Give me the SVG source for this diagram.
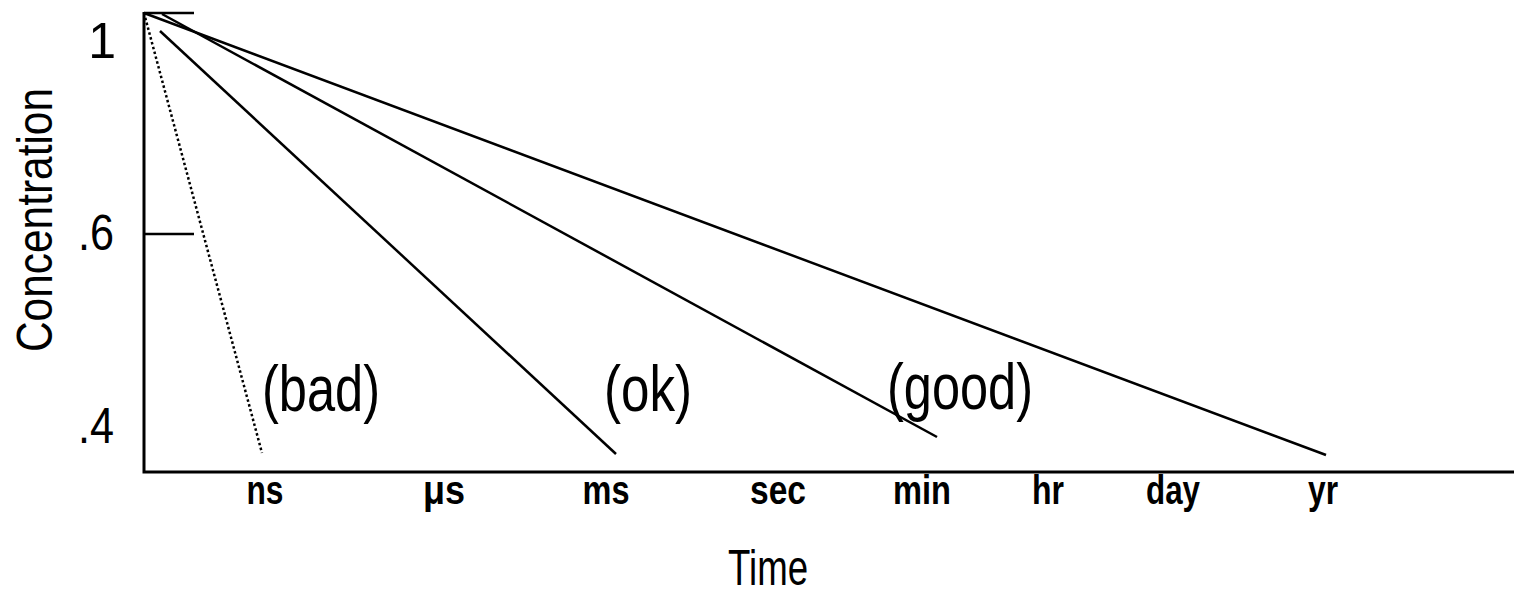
<svg xmlns="http://www.w3.org/2000/svg" width="1514" height="599" viewBox="0 0 1514 599">
<style>
.ax{stroke:#000;stroke-width:3;fill:none}
.ln{stroke:#000;stroke-width:2.5;fill:none;stroke-linecap:butt}
.dot{stroke:#000;stroke-width:2.5;fill:none;stroke-dasharray:2.5 2.5}
.num{font-family:"Liberation Sans",Arial,sans-serif;font-size:50px;fill:#000}
.lab{font-family:"Liberation Sans",Arial,sans-serif;font-size:64px;fill:#000}
.tk{font-family:"Liberation Sans",Arial,sans-serif;font-size:40px;font-weight:bold;fill:#000;text-anchor:middle}
</style>
<rect width="1514" height="599" fill="#fff"/>
<g id="axes">
<path class="ax" d="M144,12 V472 H1514"/>
<path class="ln" d="M144,13 H194 M144,234 H194"/>
</g>
<g id="y-labels">
<text class="num" x="116" y="58" text-anchor="end">1</text>
<text class="num" x="114" y="250" text-anchor="end" textLength="36" lengthAdjust="spacingAndGlyphs">.6</text>
<text class="num" x="114" y="443" text-anchor="end" textLength="36" lengthAdjust="spacingAndGlyphs">.4</text>
<text class="num" transform="translate(52,220) rotate(-90)" text-anchor="middle" textLength="264" lengthAdjust="spacingAndGlyphs">Concentration</text>
</g>
<g id="connectors">
<line class="dot" x1="144" y1="13" x2="262" y2="453"/>
<line class="ln" x1="160" y1="31" x2="616" y2="454"/>
<line class="ln" x1="162" y1="14" x2="937" y2="437"/>
<line class="ln" x1="144" y1="13" x2="1326" y2="455"/>
</g>
<g id="curve-labels">
<text class="lab" x="262" y="411" textLength="118" lengthAdjust="spacingAndGlyphs">(bad)</text>
<text class="lab" x="604" y="411" textLength="88" lengthAdjust="spacingAndGlyphs">(ok)</text>
<text class="lab" x="887" y="409" textLength="146" lengthAdjust="spacingAndGlyphs">(good)</text>
</g>
<g id="x-labels">
<text class="tk" x="265" y="504" textLength="37" lengthAdjust="spacingAndGlyphs">ns</text>
<text class="tk" x="444" y="504" textLength="42" lengthAdjust="spacingAndGlyphs">μs</text>
<text class="tk" x="606" y="504" textLength="47" lengthAdjust="spacingAndGlyphs">ms</text>
<text class="tk" x="778" y="504" textLength="56" lengthAdjust="spacingAndGlyphs">sec</text>
<text class="tk" x="922" y="504" textLength="58" lengthAdjust="spacingAndGlyphs">min</text>
<text class="tk" x="1048" y="504" textLength="32" lengthAdjust="spacingAndGlyphs">hr</text>
<text class="tk" x="1173" y="504" textLength="54" lengthAdjust="spacingAndGlyphs">day</text>
<text class="tk" x="1323" y="504" textLength="30" lengthAdjust="spacingAndGlyphs">yr</text>
<text class="num" x="768" y="585" text-anchor="middle" textLength="80" lengthAdjust="spacingAndGlyphs">Time</text>
</g>
</svg>
